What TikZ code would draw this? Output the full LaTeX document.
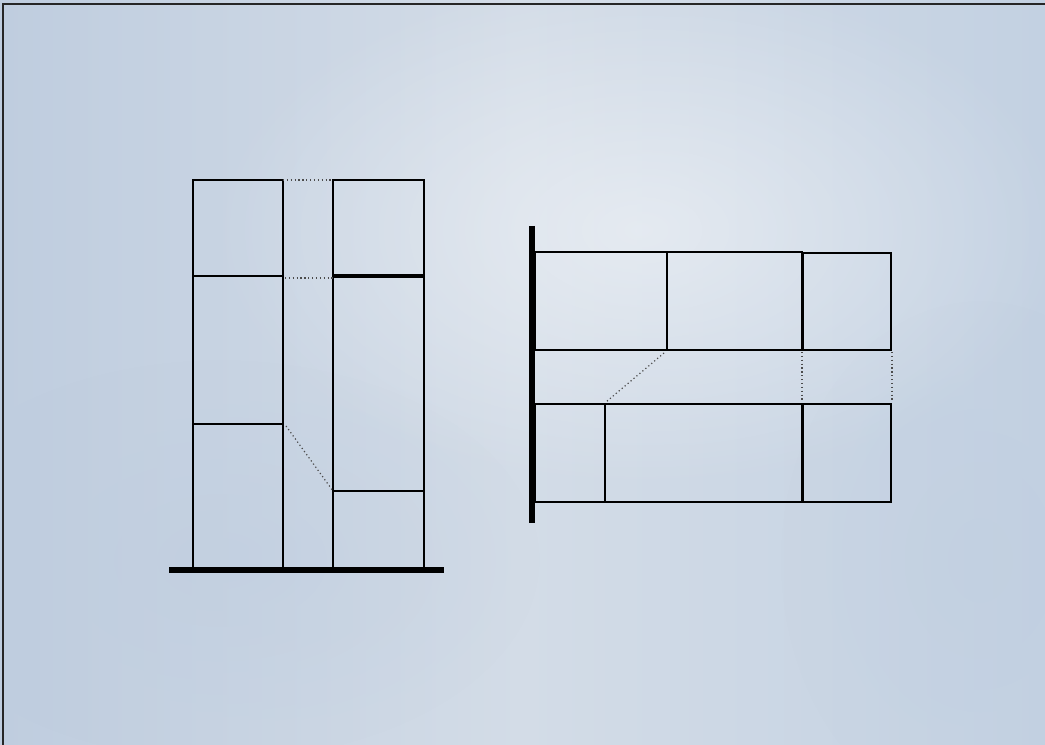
\documentclass[tikz,border=0pt]{standalone}
\usetikzlibrary{calc,fadings}
\tikzfading[name=softout, inner color=transparent!0, outer color=transparent!100]
\definecolor{bgA}{HTML}{BFCDDF}
\definecolor{bgB}{HTML}{D3DCE7}
\definecolor{bgC}{HTML}{C3D1E2}
\tikzset{
  blk/.style={draw=black, line width=0.9pt, inner sep=0pt, outer sep=0pt, rectangle},
  hint/.style={draw=black!70, line width=0.9pt, dotted},
  heavy/.style={line width=3.8pt, draw=black},
}
\newcommand\blkbox[5]{\node[blk, minimum width={(#4-#2)*0.75pt}, minimum height={(#5-#3)*0.75pt}] (#1) at ({(#2+#4)/2},{(#3+#5)/2}) {};}
\begin{document}
\begin{tikzpicture}[x=0.75pt,y=-0.75pt]
\useasboundingbox (0,0) rectangle (1045,745);
% background
\shade[left color=bgA, right color=bgC, middle color=bgB] (0,0) rectangle (1045,745);
\fill[white, fill opacity=0.45, path fading=softout] (640,230) ellipse (430 and 260);
\fill[bgA, fill opacity=0.5, path fading=softout] (220,560) ellipse (320 and 200);
\fill[bgA, fill opacity=0.4, path fading=softout] (980,560) ellipse (200 and 260);
\draw[line width=1pt, black!85] (3,746) -- (3,4) -- (1046,4);
% left diagram
\blkbox{La}{193}{180}{283}{276}
\blkbox{Lb}{193}{276}{283}{424}
\blkbox{Lc}{193}{424}{283}{568}
\blkbox{Ra}{333}{180}{424}{275}
\blkbox{Rb}{333}{277}{424}{491}
\blkbox{Rc}{333}{491}{424}{568}
\draw[hint] (La.north east) -- (Ra.north west);
\draw[hint] ($(La.south east)+(2,2)$) coordinate (d1) -- (d1 -| Rb.west);
\draw[hint] ($(Lc.north east)+(3,2)$) -- (Rc.north west);
\coordinate (g1) at (169,570);
\coordinate (g2) at (444,570);
\draw[heavy] (g1) -- (g2);
% right diagram
\coordinate (w1) at (532,226);
\coordinate (w2) at (532,523);
\draw[heavy] (w1) -- (w2);
\blkbox{Ta}{535}{252}{667}{350}
\blkbox{Tb}{667}{252}{802}{350}
\blkbox{Tc}{803}{253}{891}{350}
\blkbox{Ba}{535}{404}{605}{502}
\blkbox{Bb}{605}{404}{802}{502}
\blkbox{Bc}{803}{404}{891}{502}
\draw[hint] ($(Tb.south west)+(-3,3)$) -- ($(Bb.north west)+(1,-2)$);
\draw[hint] ($(Tc.south west)+(-1,2)$) -- ($(Bc.north west)+(-1,-2)$);
\draw[hint] ($(Tc.south east)+(1,2)$) -- ($(Bc.north east)+(1,-2)$);
\end{tikzpicture}
\end{document}
